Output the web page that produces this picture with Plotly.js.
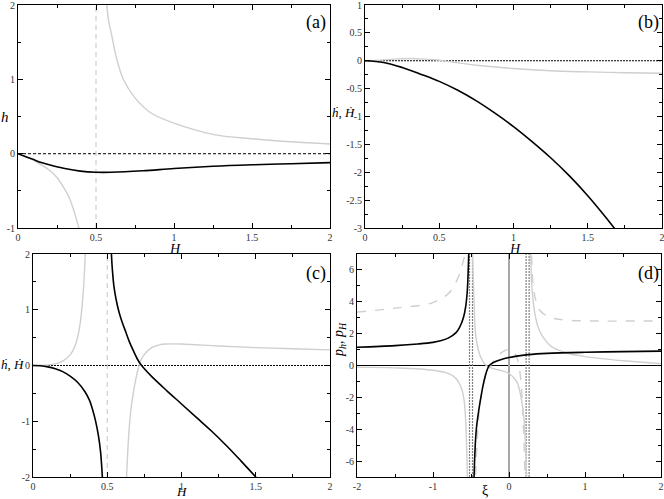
<!DOCTYPE html>
<html>
<head>
<meta charset="utf-8">
<script src="https://cdn.plot.ly/plotly-3.0.1.min.js"></script>
<style>
  html, body { margin: 0; padding: 0; background: #fff; }
  #chart { width: 664px; height: 499px; }
</style>
</head>
<body>
<div id="chart"></div>
<script>
// --- panel (a): h vs H ---
const aBlackH = [0, 0.05, 0.1, 0.15, 0.2, 0.3, 0.4, 0.5, 0.6, 0.8, 1.0, 1.25, 1.5, 1.75, 2.0];
const aBlackV = [0, -0.04, -0.08, -0.12, -0.15, -0.2, -0.235, -0.25, -0.25, -0.23, -0.2, -0.17, -0.15, -0.135, -0.12];
const aGrayLoH = [0, 0.05, 0.1, 0.15, 0.2, 0.25, 0.3, 0.33, 0.36, 0.39, 0.4];
const aGrayLoV = [0, -0.04, -0.09, -0.15, -0.22, -0.32, -0.48, -0.6, -0.78, -1.0, -1.08];
const aGrayHiH = [0.565, 0.58, 0.6, 0.63, 0.675, 0.75, 0.85, 1.0, 1.25, 1.5, 1.75, 2.0];
const aGrayHiV = [2.1, 1.8, 1.6, 1.3, 1.0, 0.75, 0.55, 0.41, 0.26, 0.2, 0.16, 0.13];

// --- panel (b): hdot, Hdot vs H ---
const bBlackH = [0, 0.125, 0.25, 0.375, 0.5, 0.625, 0.75, 0.875, 1.0, 1.125, 1.25, 1.375, 1.5, 1.625, 1.75];
const bBlackV = [0, -0.03, -0.12, -0.24, -0.37, -0.53, -0.72, -0.94, -1.18, -1.45, -1.74, -2.06, -2.42, -2.82, -3.25];
const bGrayH = [0, 0.1, 0.2, 0.3, 0.4, 0.5, 0.6, 0.75, 1.0, 1.25, 1.5, 1.75, 2.0];
const bGrayV = [0, 0.01, 0.03, 0.04, 0.03, 0.01, -0.03, -0.08, -0.14, -0.18, -0.2, -0.215, -0.225];

// --- panel (c): hdot, Hdot vs H ---
const cBlackLoH = [0, 0.05, 0.1, 0.15, 0.2, 0.25, 0.3, 0.35, 0.38, 0.4, 0.42, 0.44, 0.455, 0.467, 0.472];
const cBlackLoV = [0, -0.005, -0.025, -0.06, -0.11, -0.19, -0.3, -0.47, -0.62, -0.78, -0.98, -1.25, -1.55, -2.0, -2.3];
const cBlackHiH = [0.524, 0.528, 0.535, 0.545, 0.56, 0.58, 0.6, 0.625, 0.65, 0.675, 0.7, 0.72, 0.75, 0.8, 0.9, 1.0, 1.1, 1.2, 1.3, 1.4, 1.5, 1.52];
const cBlackHiV = [2.3, 2.0, 1.7, 1.42, 1.18, 0.95, 0.78, 0.6, 0.42, 0.27, 0.13, 0.04, -0.06, -0.2, -0.45, -0.69, -0.93, -1.17, -1.43, -1.71, -2.0, -2.06];
const cGrayLoH = [0, 0.1, 0.15, 0.2, 0.25, 0.28, 0.3, 0.32, 0.335, 0.345, 0.352, 0.356];
const cGrayLoV = [0, 0.01, 0.03, 0.08, 0.19, 0.33, 0.5, 0.8, 1.2, 1.6, 2.0, 2.3];
const cGrayHiH = [0.626, 0.63, 0.64, 0.65, 0.66, 0.68, 0.7, 0.72, 0.75, 0.8, 0.85, 0.9, 1.0, 1.25, 1.5, 1.75, 2.0];
const cGrayHiV = [-2.3, -2.0, -1.45, -1.05, -0.78, -0.42, -0.15, 0.05, 0.2, 0.32, 0.37, 0.385, 0.385, 0.35, 0.32, 0.3, 0.28];

// --- panel (d): p_h, p_H vs xi ---
const dBlackLX = [-2, -1.5, -1.2, -1.0, -0.9, -0.8, -0.7, -0.65, -0.6, -0.57, -0.55, -0.54, -0.53, -0.525];
const dBlackLV = [1.15, 1.25, 1.35, 1.45, 1.55, 1.72, 2.05, 2.4, 3.0, 3.7, 4.6, 5.5, 7.0, 8.0];
const dBlackRX = [-0.465, -0.46, -0.43, -0.37, -0.33, -0.3, -0.26, -0.2, -0.1, 0, 0.1, 0.25, 0.5, 1.0, 1.5, 2.0];
const dBlackRV = [-8.0, -7.0, -4.0, -2.0, -1.0, -0.45, 0, 0.2, 0.38, 0.5, 0.59, 0.68, 0.76, 0.83, 0.87, 0.9];
const dGrayLX = [-2, -1.5, -1.0, -0.8, -0.7, -0.62, -0.59, -0.57, -0.555, -0.548, -0.545];
const dGrayLV = [-0.1, -0.15, -0.3, -0.5, -0.8, -1.5, -2.2, -3.5, -5.5, -7.0, -8.0];
const dGrayMX = [-0.49, -0.48, -0.46, -0.44, -0.4, -0.35, -0.3, -0.2, -0.1, 0, 0.1, 0.15, 0.2, 0.225, 0.233, 0.236];
const dGrayMV = [8.0, 7.0, 4.0, 2.0, 0.9, 0.3, 0.0, -0.2, -0.32, -0.5, -1.0, -1.8, -3.5, -6.0, -7.0, -8.0];
const dGrayRX = [0.28, 0.286, 0.3, 0.35, 0.4, 0.5, 0.57, 0.75, 1.0, 1.5, 2.0];
const dGrayRV = [8.0, 7.0, 5.0, 3.0, 2.2, 1.45, 1.15, 0.8, 0.56, 0.3, 0.12];
const dDashLX = [-2, -1.5, -1.0, -0.8, -0.7, -0.64, -0.61, -0.58, -0.57];
const dDashLV = [3.35, 3.6, 3.95, 4.5, 5.2, 5.9, 6.4, 7.0, 7.3];
const dDashMX = [-0.445, -0.44, -0.41, -0.37, -0.3, -0.24, -0.15, -0.05, 0, 0.05, 0.1, 0.14, 0.17, 0.195, 0.21, 0.215];
const dDashMV = [-8.0, -7.0, -4.0, -2.0, -0.6, 0, 0.6, 0.95, 1.0, 0.9, 0.55, -0.3, -1.8, -4.5, -7.0, -8.0];
const dDashRX = [0.285, 0.295, 0.33, 0.4, 0.5, 0.6, 0.75, 1.0, 2.0];
const dDashRV = [8.0, 7.0, 4.6, 3.5, 3.1, 2.95, 2.85, 2.8, 2.8];

// tick labels
const hTicks = [0, 0.5, 1, 1.5, 2];
const aYTicks = [-1, 0, 1, 2];
const bYTicks = [-3, -2.5, -2, -1.5, -1, -0.5, 0, 0.5, 1];
const cYTicks = [-2, -1, 0, 1, 2];
const dXTicks = [-2, -1, 0, 1, 2];
const dYTicks = [-6, -4, -2, 0, 2, 4, 6];

// reference lines
const aAsymptote = [0.5];
const cAsymptote = [0.5];
const dPoles = [-0.5, 0.245];
const dCentre = [0];

const BLACK = '#000000';
const GRAY = '#cfcfcf';
const SERIF = '"Liberation Serif", "Times New Roman", serif';

function curve(x, y, xa, ya, color, dash) {
  return {
    x, y, xaxis: xa, yaxis: ya, type: 'scatter', mode: 'lines',
    line: { color, width: color === BLACK ? 1.6 : 1.4, dash: dash || 'solid', shape: 'spline', smoothing: 1 },
    hoverinfo: 'skip', showlegend: false,
  };
}

const traces = [
  curve(aGrayLoH, aGrayLoV, 'x', 'y', GRAY),
  curve(aGrayHiH, aGrayHiV, 'x', 'y', GRAY),
  curve(aBlackH, aBlackV, 'x', 'y', BLACK),
  curve(bGrayH, bGrayV, 'x2', 'y2', GRAY),
  curve(bBlackH, bBlackV, 'x2', 'y2', BLACK),
  curve(cGrayLoH, cGrayLoV, 'x3', 'y3', GRAY),
  curve(cGrayHiH, cGrayHiV, 'x3', 'y3', GRAY),
  curve(cBlackLoH, cBlackLoV, 'x3', 'y3', BLACK),
  curve(cBlackHiH, cBlackHiV, 'x3', 'y3', BLACK),
  curve(dDashLX, dDashLV, 'x4', 'y4', GRAY, 'dash'),
  curve(dDashMX, dDashMV, 'x4', 'y4', GRAY, 'dash'),
  curve(dDashRX, dDashRV, 'x4', 'y4', GRAY, 'dash'),
  curve(dGrayLX, dGrayLV, 'x4', 'y4', GRAY),
  curve(dGrayMX, dGrayMV, 'x4', 'y4', GRAY),
  curve(dGrayRX, dGrayRV, 'x4', 'y4', GRAY),
  curve(dBlackLX, dBlackLV, 'x4', 'y4', BLACK),
  curve(dBlackRX, dBlackRV, 'x4', 'y4', BLACK),
];

function axis(domain, range, tickvals, minor, anchor) {
  return {
    domain, range, anchor,
    tickmode: 'array', tickvals, ticktext: tickvals.map(String),
    ticks: 'inside', ticklen: 5, tickwidth: 1, tickcolor: '#000',
    minor: { ticks: 'inside', ticklen: 3, dtick: minor, tick0: 0, tickcolor: '#000', showgrid: false },
    showline: true, linecolor: '#000', linewidth: 1, mirror: 'allticks',
    showgrid: false, zeroline: false,
    ticklabeloverflow: 'allow',
    tickfont: { family: SERIF, size: 10, color: '#333' },
    fixedrange: true,
  };
}

function hline(xa, ya, y, color, width, dash) {
  return { type: 'line', xref: xa + ' domain', yref: ya, x0: 0, x1: 1, y0: y, y1: y,
           line: { color, width, dash }, layer: 'below' };
}
function vline(xa, ya, x, color, width, dash) {
  return { type: 'line', xref: xa, yref: ya + ' domain', x0: x, x1: x, y0: 0, y1: 1,
           line: { color, width, dash }, layer: 'below' };
}
// doubled dotted line at a pole (two thin dotted strokes a few pixels apart)
function poleLines(xa, ya, x) {
  return [-1.5, 1.5].map(off => ({
    type: 'line', xref: xa, yref: ya + ' domain', xsizemode: 'pixel', xanchor: x,
    x0: off, x1: off, y0: 0, y1: 1,
    line: { color: '#808080', width: 1.2, dash: '2px,1px' }, layer: 'below',
  }));
}

const shapes = [
  hline('x', 'y', 0, '#333', 1.2, '3px,2px'),
  hline('x2', 'y2', 0, '#000', 1, '2px,1px'),
  hline('x3', 'y3', 0, '#000', 1, '2px,1px'),
  hline('x4', 'y4', 0, '#000', 1, 'solid'),
  ...aAsymptote.map(v => vline('x', 'y', v, GRAY, 1.2, '5px,4px')),
  ...cAsymptote.map(v => vline('x3', 'y3', v, GRAY, 1.2, '5px,4px')),
  ...dCentre.map(v => vline('x4', 'y4', v, '#a8a8a8', 2, 'solid')),
  ...dPoles.flatMap(v => poleLines('x4', 'y4', v)),
];

function label(text, x, y, size, extra) {
  return Object.assign({
    text, xref: 'paper', yref: 'paper', x: x / 664, y: 1 - y / 499,
    xanchor: 'center', yanchor: 'middle', showarrow: false,
    font: { family: SERIF, size, color: '#000' },
  }, extra || {});
}

const annotations = [
  label('(a)', 316, 22, 18),
  label('(b)', 648, 22, 18),
  label('(c)', 316, 273, 18),
  label('(d)', 648, 273, 18),
  label('<i>H</i>', 175, 250, 14),
  label('<i>H</i>', 515, 250, 14),
  label('<i>H</i>', 181, 491, 13),
  label('ξ', 485, 490, 14),
  label('<i>h</i>', 5, 117, 15),
  label('<i>ḣ</i>, <i>Ḣ</i>', 343, 112, 13),
  label('<i>ḣ</i>, <i>Ḣ</i>', 12, 364, 13),
  label('<i>p<sub>h</sub></i>, <i>p<sub>H</sub></i>', 339, 340, 14, { textangle: -90 }),
];

const layout = {
  width: 664, height: 499,
  margin: { l: 0, r: 0, t: 0, b: 0 },
  paper_bgcolor: '#fff', plot_bgcolor: '#fff',
  showlegend: false,
  xaxis: axis([18 / 664, 330 / 664], [0, 2], hTicks, 0.25, 'y'),
  yaxis: axis([1 - 228 / 499, 1 - 5 / 499], [-1, 2], aYTicks, 0.5, 'x'),
  xaxis2: axis([365 / 664, 662 / 664], [0, 2], hTicks, 0.25, 'y2'),
  yaxis2: axis([1 - 228 / 499, 1 - 5 / 499], [-3, 1], bYTicks, 0.25, 'x2'),
  xaxis3: axis([33 / 664, 330 / 664], [0, 2], hTicks, 0.25, 'y3'),
  yaxis3: axis([1 - 477 / 499, 1 - 254 / 499], [-2, 2], cYTicks, 0.5, 'x3'),
  xaxis4: axis([357 / 664, 661 / 664], [-2, 2], dXTicks, 0.5, 'y4'),
  yaxis4: axis([1 - 477 / 499, 1 - 254 / 499], [-7, 7], dYTicks, 1, 'x4'),
  shapes,
  annotations,
};

Plotly.newPlot('chart', traces, layout, { displayModeBar: false, staticPlot: true });
</script>
</body>
</html>
